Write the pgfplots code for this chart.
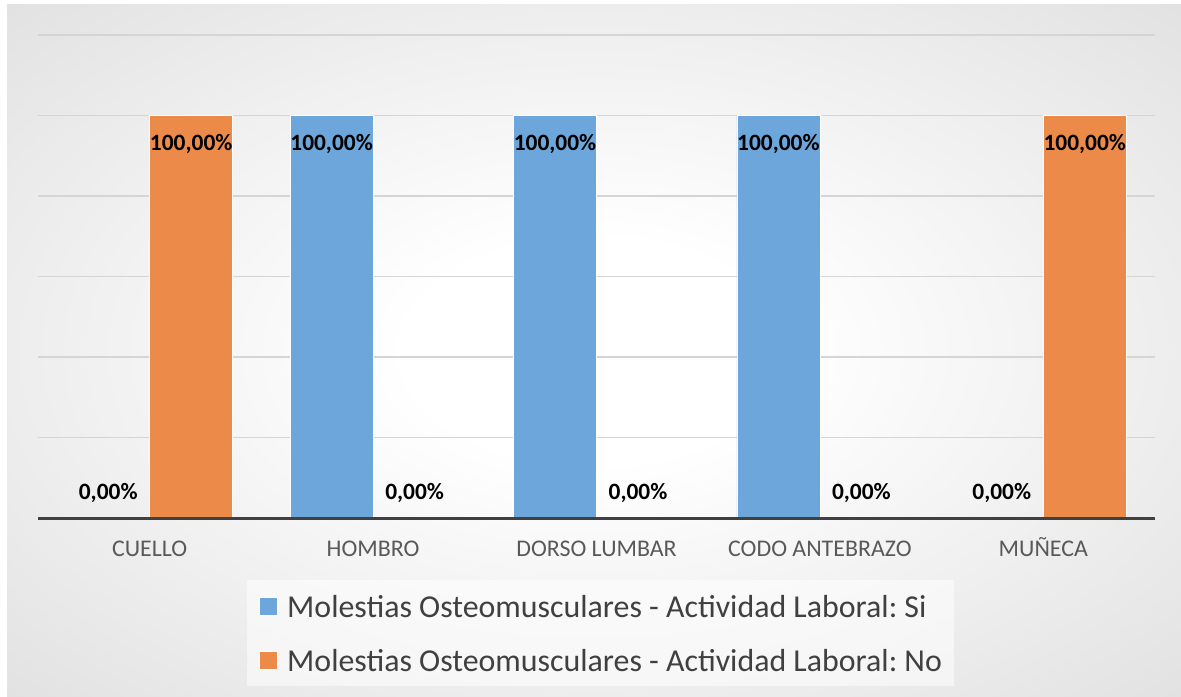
\documentclass[border=0pt]{standalone}
\usepackage{fontspec}
\setmainfont{Carlito}
\usepackage{pgfplots}
\pgfplotsset{compat=1.18}
\frenchspacing
\definecolor{barblue}{HTML}{6DA6DB}
\definecolor{barorange}{HTML}{EC8B49}
\definecolor{gridgray}{HTML}{D5D5D5}
\definecolor{axisgray}{HTML}{404040}
\definecolor{ticktext}{HTML}{595959}
\definecolor{legtext}{HTML}{404040}
\definecolor{bgedge}{HTML}{BCBCBC}
\pgfdeclareradialshading{bgshade}{\pgfpoint{0bp}{0bp}}{color(0bp)=(white); color(8bp)=(white); color(71bp)=(bgedge)}

\begin{document}
\begin{tikzpicture}
% 1 px of the reference = 0.5bp
\useasboundingbox (0,0) rectangle (590.5bp,348.5bp);
\fill[white] (0,0) rectangle (590.5bp,348.5bp);
\shade[shading=bgshade] (3.5bp,0) rectangle (590.5bp,346bp);
\begin{axis}[
  at={(19bp,89.5bp)}, anchor=south west,
  scale only axis, width=558.5bp, height=241.5bp,
  clip=false,
  ybar=0pt, bar width=41.5bp,
  xmin=-0.5, xmax=4.5, ymin=0, ymax=120,
  xtick={0,...,4},
  xticklabels={CUELLO,HOMBRO,DORSO LUMBAR,CODO ANTEBRAZO,MUÑECA},
  ytick={0,20,...,120}, yticklabels={},
  ymajorgrids, grid style={gridgray, line width=0.75bp},
  axis line style={draw=none},
  xtick style={draw=none}, ytick style={draw=none},
  xticklabel style={font=\fontsize{12}{14}\selectfont, text=ticktext, anchor=center,
    text height=7.6bp, text depth=0pt, inner sep=0pt, yshift=-11bp},
  visualization depends on={rawy \as \rawy},
  nodes near coords={\pgfmathprintnumber[fixed,fixed zerofill,precision=2,use comma,assume math mode=true]{\pgfplotspointmeta}\%},
  nodes near coords style={font=\fontsize{11.75}{14}\selectfont\bfseries, text=black,
    anchor=center, text height=7.4bp, text depth=0pt, inner sep=0pt,
    yshift={ifthenelse(\rawy>50,-13.75,12.8)}},
  legend cell align=left,
  legend image code/.code={\fill[#1, fill opacity=1] (0bp,-4.4bp) rectangle (8.8bp,4.4bp);},
  legend style={at={(axis description cs:0.1871,-0.1284)}, anchor=north west,
    draw=none, fill=white, fill opacity=0.55, text opacity=1, text=legtext,
    font=\fontsize{16}{19}\selectfont, inner xsep=6bp, inner ysep=7.5bp, row sep=16bp,
    nodes={inner sep=0pt, text height=11bp, text depth=0pt},
    /tikz/every odd column/.append style={column sep=4.7bp}},
]
\addplot[fill=barblue, draw=white, line width=0.4bp] coordinates {(0,0) (1,100) (2,100) (3,100) (4,0)};
\addlegendentry{Molestias Osteomusculares - Actividad Laboral: Si}
\addplot[fill=barorange, draw=white, line width=0.4bp] coordinates {(0,100) (1,0) (2,0) (3,0) (4,100)};
\addlegendentry{Molestias Osteomusculares - Actividad Laboral: No}
\draw[axisgray, line width=1.5bp] (rel axis cs:0,0) -- (rel axis cs:1,0);
\end{axis}
\end{tikzpicture}
\end{document}
